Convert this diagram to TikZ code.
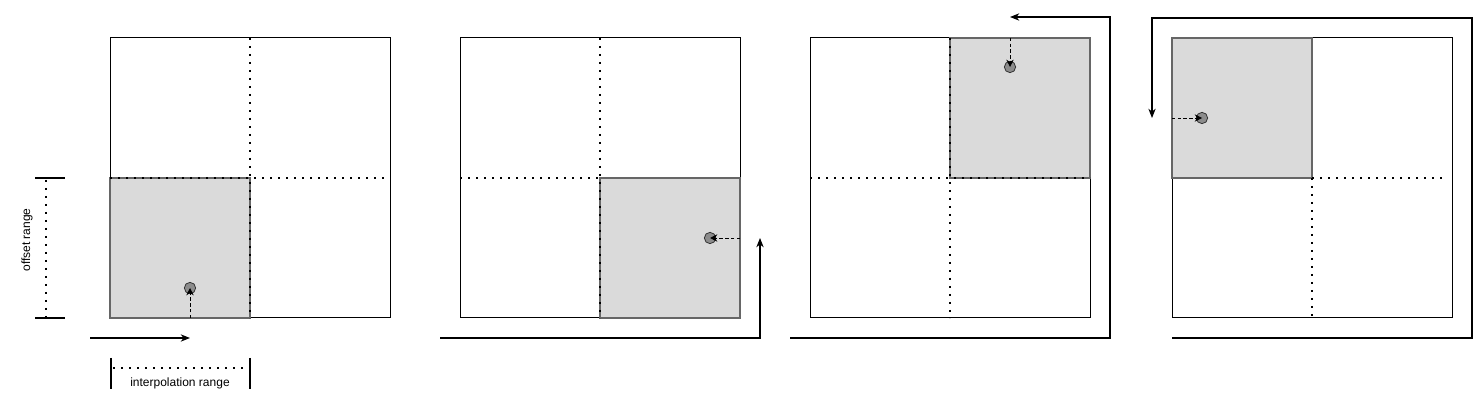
\documentclass[tikz,border=0pt]{standalone}
\usepackage{fontspec}
\setmainfont{Liberation Sans}
\usetikzlibrary{arrows.meta}
\definecolor{shade}{HTML}{DADADA}
\definecolor{shadeline}{HTML}{666666}
\definecolor{dotfill}{HTML}{8C8C8C}
\tikzset{
  frame/.style={draw=black, line width=0.75pt, inner sep=0pt, outer sep=0pt, minimum width=210pt, minimum height=210pt},
  cell/.style={fill=shade, draw=shadeline, line width=0.8pt},
  dots/.style={line width=1.2pt, dash pattern=on 1.2pt off 4.8pt},
  conn/.style={line width=0.8pt, -{Stealth[length=7pt,width=5.5pt]}},
  probe/.style={circle, fill=dotfill, draw=black!80, line width=0.6pt, inner sep=0pt, minimum size=8.5pt},
  probearrow/.style={line width=0.7pt, dash pattern=on 2.5pt off 1.8pt, -{Stealth[length=5.5pt,width=5.5pt]}},
  lbl/.style={font=\fontsize{9}{11}\selectfont, inner sep=0pt},
  tick/.style={line width=0.8pt},
}
\begin{document}
\begin{tikzpicture}[x=0.75pt,y=-0.75pt]
\useasboundingbox (0,0) rectangle (1484,409);

% ---------- panel 1 ----------
\node[frame] (b1) at (250,178) {};
\draw[cell] (b1.west) rectangle (b1.south);
\draw[dots] (b1.north) -- (b1.south);
\draw[dots] (b1.west) -- (b1.east);
\node[probe] (p1) at (190,288) {};
\coordinate (q1) at (190,318);
\draw[probearrow] (q1) -- (p1.center);
\coordinate (a1s) at (90,338);
\coordinate (a1e) at (190,338);
\draw[conn] (a1s) -- (a1e);

% offset range bracket
\coordinate (or1) at (35,178);
\coordinate (or2) at (65,178);
\coordinate (or3) at (35,318);
\coordinate (or4) at (65,318);
\draw[tick] (or1) -- (or2);
\draw[tick] (or3) -- (or4);
\coordinate (od1) at (46,180);
\coordinate (od2) at (46,318);
\draw[dots] (od1) -- (od2);
\node[lbl, rotate=90] (olab) at (27,240) {offset range};

% interpolation range bracket
\coordinate (ir1) at (111,358);
\coordinate (ir2) at (111,389);
\coordinate (ir3) at (250,358);
\coordinate (ir4) at (250,389);
\draw[tick] (ir1) -- (ir2);
\draw[tick] (ir3) -- (ir4);
\coordinate (id1) at (113,368);
\coordinate (id2) at (250,368);
\draw[dots] (id1) -- (id2);
\node[lbl] (ilab) at (180,383) {interpolation range};

% ---------- panel 2 ----------
\node[frame] (b2) at (600,178) {};
\draw[cell] (b2.center) rectangle (b2.south east);
\draw[dots] (b2.north) -- (b2.south);
\draw[dots] (b2.west) -- (b2.center);
\node[probe] (p2) at (710,238) {};
\coordinate (q2) at (740,238);
\draw[probearrow] (q2) -- (p2.center);
\coordinate (a2s) at (440,338);
\coordinate (a2c) at (760,338);
\coordinate (a2e) at (760,238);
\draw[conn] (a2s) -- (a2c) -- (a2e);

% ---------- panel 3 ----------
\node[frame] (b3) at (950,178) {};
\draw[cell] (b3.north) rectangle (b3.east);
\draw[dots] (b3.north) -- (b3.south);
\draw[dots] (b3.west) -- (b3.east);
\node[probe] (p3) at (1010,67) {};
\coordinate (q3) at (1010,38);
\draw[probearrow] (q3) -- (p3.center);
\coordinate (a3s) at (790,338);
\coordinate (a3c1) at (1110,338);
\coordinate (a3c2) at (1110,17);
\coordinate (a3e) at (1010,17);
\draw[conn] (a3s) -- (a3c1) -- (a3c2) -- (a3e);

% ---------- panel 4 ----------
\node[frame] (b4) at (1312,178) {};
\draw[cell] (b4.north west) rectangle (b4.center);
\draw[dots] (b4.center) -- (b4.south);
\draw[dots] (b4.center) -- ([xshift=-6] b4.east);
\node[probe] (p4) at (1202,118) {};
\coordinate (q4) at (1172,118);
\draw[probearrow] (q4) -- (p4.center);
\coordinate (a4s) at (1172,338);
\coordinate (a4c1) at (1472,338);
\coordinate (a4c2) at (1472,18);
\coordinate (a4c3) at (1152,18);
\coordinate (a4e) at (1152,118);
\draw[conn] (a4s) -- (a4c1) -- (a4c2) -- (a4c3) -- (a4e);
\end{tikzpicture}
\end{document}
